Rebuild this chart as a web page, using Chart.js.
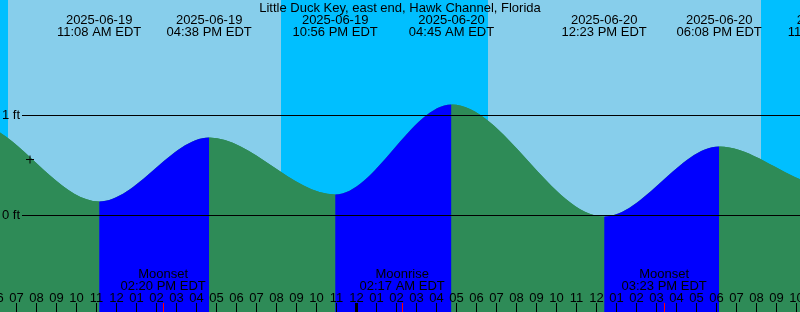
<!DOCTYPE html>
<html>
<head>
<meta charset="utf-8">
<title>Little Duck Key tides</title>
<script src="https://cdn.jsdelivr.net/npm/chart.js@4.4.0/dist/chart.umd.min.js"></script>
<style>
  html, body { margin: 0; padding: 0; background: #87ceeb; }
  #tideChart { display: block; }
</style>
</head>
<body>
<canvas id="tideChart" width="800" height="312"></canvas>
<script>
// times are hours counted from 2025-06-19 00:00 EDT
const viewStart = 6.175;
const viewEnd = 46.175;

// high / low tides (first and last ones sit outside the window)
const tideTimes = [-1.5, 4.75, 11.133, 16.633, 22.933, 28.75, 36.383, 42.133, 47.67, 53.67];
const tideHeights = [0.2, 0.93, 0.14, 0.78, 0.21, 1.11, -0.01, 0.69, 0.29, 1.1];
const tideDates = ['', '', '2025-06-19', '2025-06-19', '2025-06-19', '2025-06-20', '2025-06-20', '2025-06-20', '2025-06-20', ''];
const tideClock = ['', '', '11:08 AM EDT', '04:38 PM EDT', '10:56 PM EDT', '04:45 AM EDT', '12:23 PM EDT', '06:08 PM EDT', '11:40 PM EDT', ''];

// sun down periods
const nightStarts = [-12, 20.23, 44.23];
const nightEnds = [6.58, 30.56, 60];

// moon events
const moonTimes = [14.333, 26.283, 39.383];
const moonNames = ['Moonset', 'Moonrise', 'Moonset'];
const moonClock = ['02:20 PM EDT', '02:17 AM EDT', '03:23 PM EDT'];

// hour ticks along the bottom
const hourTicks = [6, 7, 8, 9, 10, 11, 12, 13, 14, 15, 16, 17, 18, 19, 20, 21, 22, 23, 24, 25, 26, 27, 28, 29, 30, 31, 32, 33, 34, 35, 36, 37, 38, 39, 40, 41, 42, 43, 44, 45, 46];
const hourLabels = ['06', '07', '08', '09', '10', '11', '12', '01', '02', '03', '04', '05', '06', '07', '08', '09', '10', '11', '12', '01', '02', '03', '04', '05', '06', '07', '08', '09', '10', '11', '12', '01', '02', '03', '04', '05', '06', '07', '08', '09', '10'];

// height reference lines
const levelValues = [0, 1];
const levelLabels = ['0 ft', '1 ft'];

// the "+" mark on the curve
const markTime = [7.675];
const markHeight = [0.56];

const title = 'Little Duck Key, east end, Hawk Channel, Florida';

const dayColor = '#87ceeb';
const nightColor = '#00bfff';
const risingColor = '#0000ff';
const fallingColor = '#2e8b57';
const font = '13px "Liberation Sans", Arial, sans-serif';

const tideDecor = {
  id: 'tideDecor',
  beforeDatasetsDraw(chart) {
    const { ctx, chartArea, scales: { x } } = chart;
    ctx.save();
    ctx.fillStyle = dayColor;
    ctx.fillRect(chartArea.left, chartArea.top, chartArea.width, chartArea.height);
    ctx.fillStyle = nightColor;
    for (let i = 0; i < nightStarts.length; i++) {
      const x1 = Math.round(x.getPixelForValue(nightStarts[i]));
      const x2 = Math.round(x.getPixelForValue(nightEnds[i]));
      ctx.fillRect(x1, chartArea.top, x2 - x1, chartArea.height);
    }
    ctx.restore();
  },
  afterDatasetsDraw(chart) {
    const { ctx, chartArea, scales: { x, y } } = chart;
    ctx.save();
    ctx.font = font;
    ctx.fillStyle = '#000';
    ctx.strokeStyle = '#000';

    // level lines with labels
    ctx.lineWidth = 1;
    ctx.textAlign = 'right';
    ctx.textBaseline = 'middle';
    levelValues.forEach((v, i) => {
      const py = Math.floor(y.getPixelForValue(v)) + 0.5;
      ctx.beginPath();
      ctx.moveTo(22, py);
      ctx.lineTo(chartArea.right, py);
      ctx.stroke();
      ctx.fillText(levelLabels[i], 20, py);
    });

    // title and tide event labels
    ctx.textAlign = 'center';
    ctx.textBaseline = 'alphabetic';
    ctx.fillText(title, 400, 12);
    tideTimes.forEach((t, i) => {
      if (!tideDates[i]) return;
      const px = x.getPixelForValue(t);
      ctx.fillText(tideDates[i], px, 24);
      ctx.fillText(tideClock[i], px, 36);
    });

    // moon events
    moonTimes.forEach((t, i) => {
      const px = x.getPixelForValue(t);
      ctx.fillText(moonNames[i], px, 278);
      ctx.fillText(moonClock[i], px, 290);
    });

    // hour ticks
    hourTicks.forEach((h, i) => {
      const px = Math.floor(x.getPixelForValue(h)) + 0.5;
      ctx.fillText(hourLabels[i], px, 302);
      ctx.lineWidth = (h % 24 === 0) ? 3 : 1;
      ctx.beginPath();
      ctx.moveTo(px, 303);
      ctx.lineTo(px, chartArea.bottom);
      ctx.stroke();
    });

    ctx.strokeStyle = '#ff0000';
    ctx.lineWidth = 1;
    moonTimes.forEach(t => {
      const px = Math.floor(x.getPixelForValue(t)) + 0.5;
      ctx.beginPath();
      ctx.moveTo(px, 303);
      ctx.lineTo(px, chartArea.bottom);
      ctx.stroke();
    });
    ctx.restore();
  }
};

function makeTideChart() {
  const ctx = document.getElementById('tideChart');
  const tidePoints = tideTimes.map((t, i) => ({ x: t, y: tideHeights[i] }));
  const markPoints = markTime.map((t, i) => ({ x: t, y: markHeight[i] }));

  const tideStyle = {
    borderWidth: 0,
    borderColor: 'rgba(0,0,0,0)',
    pointRadius: 0,
    fill: 'start',
    cubicInterpolationMode: 'monotone',
    capBezierPoints: false
  };

  const chart = new Chart(ctx, {
    type: 'line',
    data: {
      datasets: [{
        ...tideStyle,
        label: 'Tide',
        data: tidePoints,
        backgroundColor: fallingColor,
        segment: {
          backgroundColor: c => c.p1.parsed.y > c.p0.parsed.y ? risingColor : fallingColor
        }
      }, {
        // plain green underlay so segment seams don't show sky
        ...tideStyle,
        label: 'Tide underlay',
        data: tidePoints,
        order: 1,
        backgroundColor: fallingColor
      }, {
        label: 'Mark',
        data: markPoints,
        order: -1,
        showLine: false,
        pointStyle: 'cross',
        pointRadius: 4,
        pointBorderWidth: 1,
        pointBorderColor: '#000',
        borderColor: '#000'
      }]
    },
    options: {
      responsive: false,
      animation: false,
      events: [],
      layout: { padding: 0, autoPadding: false },
      plugins: {
        legend: { display: false },
        tooltip: { enabled: false }
      },
      scales: {
        x: { type: 'linear', display: false, min: viewStart, max: viewEnd },
        y: { display: false, min: -0.965, max: 2.155 }
      }
    },
    plugins: [tideDecor]
  });
  return chart;
}

document.addEventListener('DOMContentLoaded', function() {
  makeTideChart();
});
</script>
</body>
</html>
